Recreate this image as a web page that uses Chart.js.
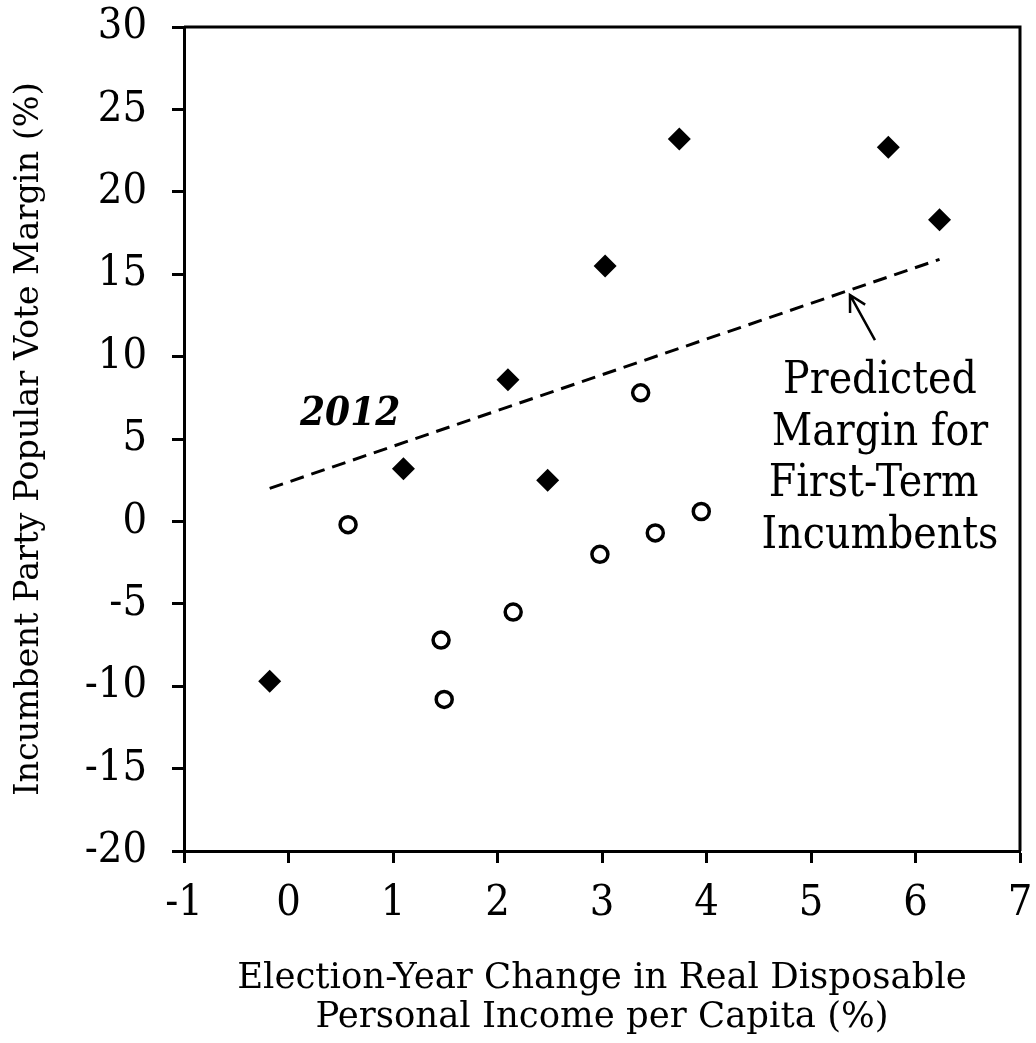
<!DOCTYPE html>
<html>
<head>
<meta charset="utf-8">
<script src="https://cdn.jsdelivr.net/npm/chart.js@4.4.1/dist/chart.umd.min.js"></script>
<style>
  html, body { margin: 0; padding: 0; background: #ffffff; }
  #wrap { width: 1036px; height: 1043px; }
</style>
</head>
<body>
<div id="wrap"><canvas id="c" width="1036" height="1043"></canvas></div>
<script>
// ---- Data ----
// First-term incumbents (filled diamonds)
const firstTermX = [-0.18, 1.10, 2.10, 2.48, 3.03, 3.74, 5.74, 6.23];
const firstTermY = [-9.7, 3.2, 8.6, 2.5, 15.5, 23.2, 22.7, 18.3];
// Other incumbent-party candidates (open circles)
const otherX = [0.57, 1.46, 1.49, 2.15, 2.98, 3.37, 3.51, 3.95];
const otherY = [-0.2, -7.2, -10.8, -5.5, -2.0, 7.8, -0.7, 0.6];
// Predicted margin line for first-term incumbents
const fitX = [-0.18, 6.23];
const fitY = [2.0, 15.9];
// Axis ticks
const xTickValues = [-1, 0, 1, 2, 3, 4, 5, 6, 7];
const yTickValues = [-20, -15, -10, -5, 0, 5, 10, 15, 20, 25, 30];
// Texts
const xTitle = ["Election-Year Change in Real Disposable", "Personal Income per Capita (%)"];
const yTitle = "Incumbent Party Popular Vote Margin (%)";
const yearLabel = "2012";
const predictedLabel = ["Predicted", "Margin for", "First-Term ", "Incumbents"];

const FONT = "'DejaVu Serif Condensed', 'DejaVu Serif', serif";
const FONT_WIDE = "'DejaVu Serif', serif";
Chart.defaults.font.family = FONT;
Chart.defaults.color = '#000';

const toPts = (xs, ys) => xs.map((v, i) => ({ x: v, y: ys[i] }));

const annotations = {
  id: 'annotations',
  afterDatasetsDraw(chart) {
    const { ctx, chartArea: a, scales: { x, y } } = chart;
    ctx.save();
    // top and right frame lines
    ctx.strokeStyle = '#000';
    ctx.lineWidth = 3;
    ctx.beginPath();
    ctx.moveTo(a.left, a.top);
    ctx.lineTo(a.right, a.top);
    ctx.lineTo(a.right, a.bottom);
    ctx.stroke();

    // "2012" label
    ctx.fillStyle = '#000';
    ctx.font = "italic bold 40px " + FONT;
    ctx.textAlign = 'center';
    ctx.textBaseline = 'alphabetic';
    ctx.fillText(yearLabel, x.getPixelForValue(0.59), y.getPixelForValue(5.85));

    // Predicted margin label
    ctx.font = "44px " + FONT;
    const cx = x.getPixelForValue(5.66);
    let by = y.getPixelForValue(7.79);
    predictedLabel.forEach((line, i) => {
      ctx.fillText(line, cx, by + i * 51.5);
    });

    // arrow pointing to the line
    const tx = x.getPixelForValue(5.612), ty = y.getPixelForValue(11.0);
    const hx = x.getPixelForValue(5.373), hy = y.getPixelForValue(13.74);
    ctx.lineWidth = 2.5;
    ctx.beginPath();
    ctx.moveTo(tx, ty);
    ctx.lineTo(hx, hy);
    const ang = Math.atan2(ty - hy, tx - hx);
    const L = 18, spread = 0.5;
    ctx.moveTo(hx + L * Math.cos(ang - spread), hy + L * Math.sin(ang - spread));
    ctx.lineTo(hx, hy);
    ctx.lineTo(hx + L * Math.cos(ang + spread), hy + L * Math.sin(ang + spread));
    ctx.stroke();
    ctx.restore();
  }
};

new Chart(document.getElementById('c'), {
  type: 'scatter',
  data: {
    datasets: [
      {
        type: 'line',
        label: 'Predicted margin',
        data: toPts(fitX, fitY),
        borderColor: '#000',
        borderWidth: 3,
        borderDash: [14, 8],
        pointRadius: 0,
        fill: false,
        order: 3
      },
      {
        label: 'First-term incumbents',
        data: toPts(firstTermX, firstTermY),
        pointStyle: 'rectRot',
        pointRadius: 11.5,
        pointHoverRadius: 11.5,
        backgroundColor: '#000',
        borderColor: '#000',
        borderWidth: 0,
        order: 1
      },
      {
        label: 'Other',
        data: toPts(otherX, otherY),
        pointStyle: 'circle',
        pointRadius: 8,
        pointHoverRadius: 8,
        backgroundColor: '#fff',
        borderColor: '#000',
        borderWidth: 3.5,
        order: 2
      }
    ]
  },
  options: {
    responsive: false,
    animation: false,
    devicePixelRatio: 1,
    layout: { padding: { top: 27, right: 16, left: 0, bottom: 0 } },
    plugins: { legend: { display: false }, tooltip: { enabled: false } },
    scales: {
      x: {
        type: 'linear',
        min: -1, max: 7,
        afterBuildTicks(scale) { scale.ticks = xTickValues.map(v => ({ value: v })); },
        afterFit(scale) { scale.height = 192; scale.paddingLeft = 0; scale.paddingRight = 0; },
        ticks: { font: { size: 43 }, color: '#000', padding: 15, maxRotation: 0, autoSkip: false,
                 callback: v => String(v) },
        grid: { display: true, drawOnChartArea: false, drawTicks: true, tickLength: 12, tickWidth: 3, tickColor: '#000' },
        border: { display: true, color: '#000', width: 3 },
        title: { display: true, text: xTitle, font: { family: FONT_WIDE, size: 35.5, lineHeight: 1.1 }, color: '#000', padding: { top: 0, bottom: 6 } }
      },
      y: {
        type: 'linear',
        min: -20, max: 30,
        afterBuildTicks(scale) { scale.ticks = yTickValues.map(v => ({ value: v })); },
        afterFit(scale) { scale.width = 184; scale.paddingTop = 0; scale.paddingBottom = 0; },
        ticks: { font: { size: 43 }, color: '#000', padding: 25, autoSkip: false,
                 callback: v => String(v) },
        grid: { display: true, drawOnChartArea: false, drawTicks: true, tickLength: 12, tickWidth: 3, tickColor: '#000' },
        border: { display: true, color: '#000', width: 3 },
        title: { display: true, text: yTitle, font: { family: FONT_WIDE, size: 33.5 }, color: '#000', padding: { top: 9, bottom: 0 } }
      }
    }
  },
  plugins: [annotations]
});
</script>
</body>
</html>
